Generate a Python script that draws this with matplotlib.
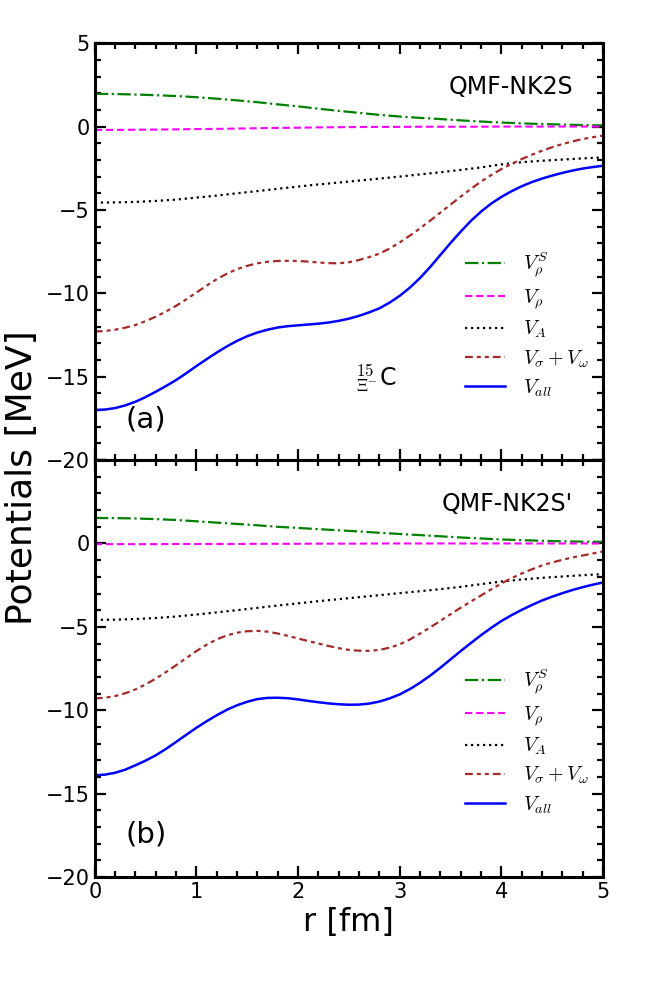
import numpy as np
import matplotlib
matplotlib.use("Agg")
import matplotlib.pyplot as plt
from matplotlib.ticker import MultipleLocator

plt.rcParams['mathtext.fontset'] = 'cm'
plt.rcParams['font.family'] = ['DejaVu Sans']

# coarse grid for the slowly varying terms
r = [0.0, 0.2, 0.4, 0.6, 0.8, 1.0, 1.2, 1.4, 1.6, 1.8, 2.0, 2.2, 2.4,
     2.6, 2.8, 3.0, 3.2, 3.4, 3.6, 3.8, 4.0, 4.2, 4.4, 4.6, 4.8, 5.0]
# finer grid for the wavy ones
r_fine = [0.0, 0.1, 0.2, 0.3, 0.4, 0.5, 0.6, 0.7, 0.8, 0.9, 1.0, 1.1, 1.2, 1.3, 1.4, 1.5, 1.6,
          1.7, 1.8, 1.9, 2.0, 2.1, 2.2, 2.3, 2.4, 2.5, 2.6, 2.7, 2.8, 2.9, 3.0, 3.1, 3.2, 3.3,
          3.4, 3.5, 3.6, 3.7, 3.8, 3.9, 4.0, 4.1, 4.2, 4.3, 4.4, 4.5, 4.6, 4.7, 4.8, 4.9, 5.0]

# panel (a): QMF-NK2S
vrhoS_a = [1.96, 1.95, 1.92, 1.88, 1.83, 1.76, 1.67, 1.57, 1.46, 1.33, 1.21, 1.07, 0.94,
           0.82, 0.70, 0.60, 0.52, 0.45, 0.37, 0.30, 0.24, 0.19, 0.15, 0.12, 0.09, 0.07]
vrho_a = [-0.20, -0.20, -0.19, -0.18, -0.17, -0.15, -0.14, -0.12, -0.10, -0.08, -0.07, -0.05, -0.04,
          -0.03, -0.02, -0.02, -0.01, -0.01, -0.01, -0.01, 0.0, 0.0, 0.0, 0.0, 0.0, 0.0]
vA_a = [-4.56, -4.55, -4.52, -4.46, -4.38, -4.26, -4.14, -4.00, -3.87, -3.73, -3.60, -3.47, -3.36,
        -3.24, -3.12, -3.00, -2.87, -2.74, -2.60, -2.45, -2.27, -2.14, -2.05, -1.98, -1.91, -1.85]
vsw_a = [-12.29, -12.26, -12.18, -12.06, -11.90, -11.67, -11.40, -11.09, -10.75, -10.36, -9.95,
         -9.54, -9.15, -8.82, -8.55, -8.35, -8.20, -8.11, -8.06, -8.05, -8.06, -8.10, -8.15,
         -8.19, -8.20, -8.14, -8.00, -7.83, -7.62, -7.32, -6.95, -6.54, -6.10, -5.64, -5.16,
         -4.68, -4.20, -3.74, -3.30, -2.91, -2.55, -2.24, -1.95, -1.69, -1.45, -1.24, -1.05,
         -0.89, -0.75, -0.64, -0.54]
vall_a = [-17.00, -16.97, -16.88, -16.72, -16.50, -16.22, -15.90, -15.56, -15.20, -14.79, -14.36,
          -13.95, -13.55, -13.18, -12.85, -12.57, -12.35, -12.18, -12.05, -11.97, -11.92, -11.87,
          -11.82, -11.75, -11.65, -11.52, -11.35, -11.14, -10.90, -10.56, -10.15, -9.66, -9.08,
          -8.42, -7.70, -6.98, -6.30, -5.66, -5.10, -4.62, -4.22, -3.88, -3.58, -3.33, -3.12,
          -2.94, -2.78, -2.64, -2.52, -2.43, -2.35]

# panel (b): QMF-NK2S'
vrhoS_b = [1.53, 1.52, 1.50, 1.46, 1.41, 1.33, 1.25, 1.17, 1.09, 1.00, 0.93, 0.86, 0.79,
           0.72, 0.64, 0.57, 0.50, 0.43, 0.36, 0.30, 0.24, 0.20, 0.16, 0.13, 0.11, 0.10]
vrho_b = [-0.04, -0.04, -0.04, -0.04, -0.03, -0.03, -0.03, -0.03, -0.02, -0.02, -0.02, -0.01, -0.01,
          -0.01, 0.0, 0.0, 0.0, 0.0, 0.0, 0.0, 0.0, 0.0, 0.0, 0.0, 0.0, 0.0]
vA_b = [-4.58, -4.57, -4.53, -4.47, -4.38, -4.26, -4.13, -4.00, -3.86, -3.72, -3.59, -3.46, -3.34,
        -3.22, -3.10, -2.98, -2.86, -2.74, -2.60, -2.44, -2.28, -2.16, -2.06, -1.98, -1.90, -1.84]
vsw_b = [-9.29, -9.25, -9.15, -8.98, -8.75, -8.45, -8.10, -7.71, -7.30, -6.87, -6.45, -6.07,
         -5.75, -5.51, -5.35, -5.26, -5.24, -5.29, -5.40, -5.54, -5.70, -5.85, -6.00, -6.15,
         -6.28, -6.38, -6.43, -6.44, -6.38, -6.25, -6.05, -5.76, -5.40, -5.03, -4.64, -4.24,
         -3.85, -3.48, -3.12, -2.75, -2.40, -2.08, -1.80, -1.55, -1.32, -1.14, -0.98, -0.84,
         -0.72, -0.60, -0.48]
vall_b = [-13.90, -13.86, -13.75, -13.56, -13.30, -13.02, -12.70, -12.32, -11.90, -11.47, -11.05,
          -10.66, -10.30, -9.97, -9.70, -9.49, -9.33, -9.26, -9.25, -9.28, -9.35, -9.44, -9.52,
          -9.59, -9.64, -9.67, -9.66, -9.60, -9.48, -9.29, -9.05, -8.73, -8.35, -7.92, -7.45,
          -6.95, -6.45, -5.97, -5.50, -5.06, -4.65, -4.30, -3.98, -3.69, -3.42, -3.19, -2.98,
          -2.79, -2.62, -2.47, -2.34]

labels = [r'$V_\rho^S$', r'$V_\rho$', r'$V_A$', r'$V_\sigma+V_\omega$', r'$V_{all}$']
colors = ['green', 'magenta', 'black', 'brown', 'blue']
dashes = [(6, 1.6, 1, 1.6), (3.5, 1.8), (1, 1.7), (3.5, 1.8, 1.8, 1.8, 1.8, 1.8), None]
widths = [1.6, 1.5, 1.6, 1.6, 1.8]

fig = plt.figure(figsize=(6.54, 9.81), dpi=100)
ax1 = fig.add_axes([0.145, 0.531, 0.777, 0.425])
ax2 = fig.add_axes([0.145, 0.106, 0.777, 0.425])

panels = [(ax1, [(r, vrhoS_a), (r, vrho_a), (r, vA_a), (r_fine, vsw_a), (r_fine, vall_a)]),
          (ax2, [(r, vrhoS_b), (r, vrho_b), (r, vA_b), (r_fine, vsw_b), (r_fine, vall_b)])]

for ax, series in panels:
    for (xs, ys), lab, c, d, w in zip(series, labels, colors, dashes, widths):
        line, = ax.plot(xs, ys, color=c, lw=w, label=lab)
        if d is not None:
            line.set_dashes(d)
    ax.set_xlim(0, 5)
    ax.set_ylim(-20, 5)
    ax.xaxis.set_major_locator(MultipleLocator(1))
    ax.xaxis.set_minor_locator(MultipleLocator(0.2))
    ax.yaxis.set_major_locator(MultipleLocator(5))
    ax.yaxis.set_minor_locator(MultipleLocator(1))
    ax.tick_params(which='both', direction='in', top=True, right=True, width=1.6,
                   labelsize=15)
    ax.tick_params(which='major', length=8)
    ax.tick_params(which='minor', length=4.5)
    for s in ax.spines.values():
        s.set_linewidth(2.2)
    ax.legend(loc='center left', bbox_to_anchor=(0.693, 0.325), frameon=False,
              fontsize=14.5, handlelength=2.0, handletextpad=0.85, labelspacing=0.38)

ax1.tick_params(labelbottom=False)
ax2.set_yticks([-20, -15, -10, -5, 0, 5])
ax2.set_yticklabels(['\u221220', '\u221215', '\u221210', '\u22125', '0', ''])

ax1.text(0.941, 0.895, 'QMF-NK2S', transform=ax1.transAxes, ha='right', va='center', fontsize=17)
ax2.text(0.941, 0.895, "QMF-NK2S'", transform=ax2.transAxes, ha='right', va='center', fontsize=17)
ax1.text(0.10, 0.098, '(a)', transform=ax1.transAxes, ha='center', va='center', fontsize=21)
ax2.text(0.10, 0.101, '(b)', transform=ax2.transAxes, ha='center', va='center', fontsize=21)
ax1.text(0.553, 0.196, r'$^{15}_{\Xi^{-}}$C', transform=ax1.transAxes, ha='center', va='center',
         fontsize=17)

ax2.set_xlabel('r [fm]', fontsize=23, labelpad=4)
fig.text(0.034, 0.513, 'Potentials [MeV]', rotation=90, ha='center', va='center', fontsize=26)

fig.savefig('out.png', dpi=100)
